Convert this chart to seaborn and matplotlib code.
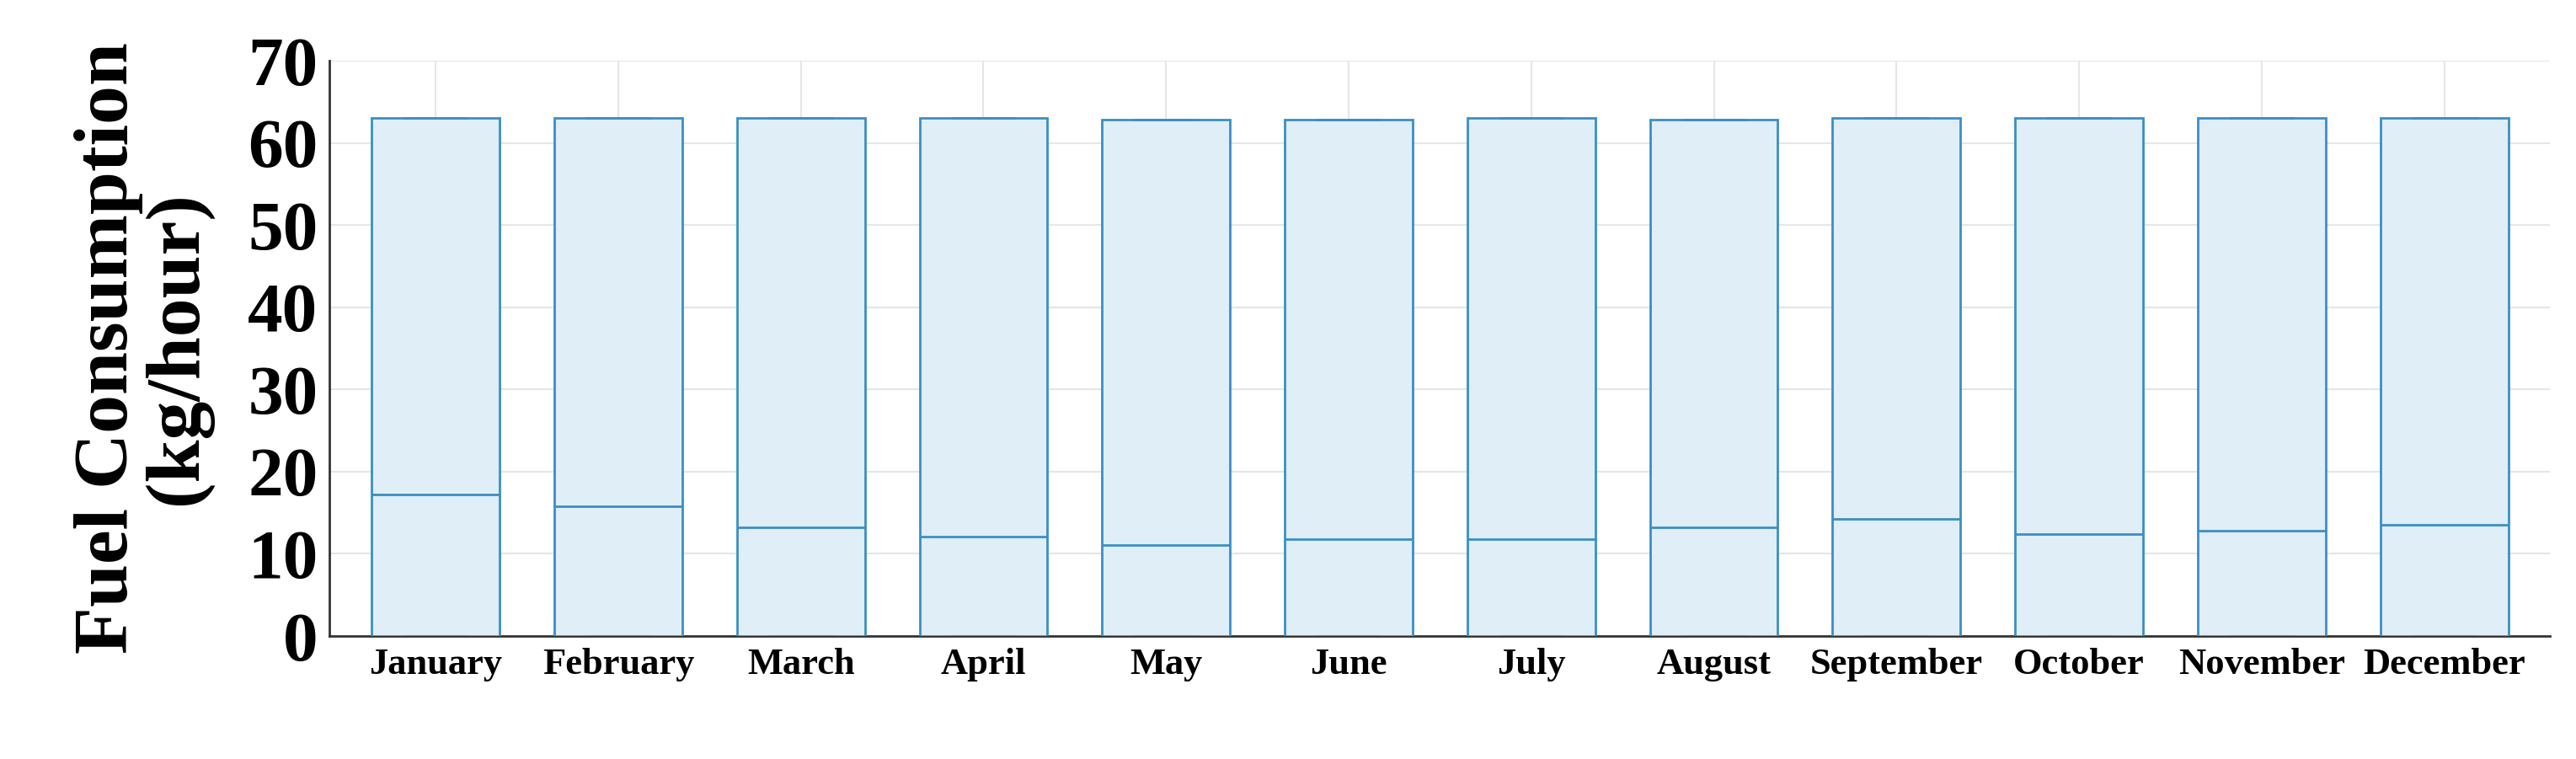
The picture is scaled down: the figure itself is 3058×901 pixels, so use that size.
import pandas as pd
import seaborn as sns
import matplotlib.pyplot as plt

months = ["January", "February", "March", "April", "May", "June", "July",
          "August", "September", "October", "November", "December"]
box_low = [0] * 12
box_high = [63.0, 63.0, 63.0, 63.0, 62.8, 62.8, 63.0, 62.8, 63.0, 63.0, 63.0, 63.0]
medians = [17.2, 15.8, 13.2, 12.1, 11.1, 11.8, 11.8, 13.2, 14.2, 12.4, 12.8, 13.5]

rows = []
for m, lo, hi, med in zip(months, box_low, box_high, medians):
    for v in [lo, lo, med, hi, hi]:
        rows.append({"month": m, "fuel": v})
df = pd.DataFrame(rows)

sns.set_style("white")
plt.rcParams['font.family'] = ['Liberation Serif', 'DejaVu Serif']
plt.rcParams['font.weight'] = 'bold'
plt.rcParams['text.color'] = 'black'
plt.rcParams['xtick.color'] = 'black'
plt.rcParams['ytick.color'] = 'black'
plt.rcParams['axes.labelcolor'] = 'black'

fig = plt.figure(figsize=(30.58, 9.01), dpi=100)
ax = fig.add_axes([0.128, 0.162, 0.862, 0.758])

edge = "#3a8fc4"
sns.boxplot(data=df, x="month", y="fuel", order=months, width=0.7, whis=10,
            color="#dfeef7", linecolor=edge, linewidth=2, fliersize=0,
            ax=ax, zorder=3)
for p in ax.patches:
    p.set_facecolor("#dfeef7")
    p.set_edgecolor(edge)

ax.set_ylim(0, 70)
ax.set_yticks(range(0, 71, 10))
ax.set_xlim(-0.58, 11.58)
ax.grid(True, color="#e6e6e6", linewidth=1.5, zorder=0)
ax.set_axisbelow(True)
for s in ["top", "right"]:
    ax.spines[s].set_visible(False)
for s in ["left", "bottom"]:
    ax.spines[s].set_color("#333333")
    ax.spines[s].set_linewidth(2)
ax.tick_params(axis="y", labelsize=60, length=8, width=2, pad=2)
ax.tick_params(axis="x", labelsize=32, length=0, pad=10)
for t in ax.get_yticklabels() + ax.get_xticklabels():
    t.set_fontweight("bold")
ax.set_xlabel("")
ax.set_ylabel("Fuel Consumption\n(kg/hour)", fontsize=66, fontweight="bold",
              linespacing=1.0, labelpad=30)

fig.savefig("out.png", dpi=100)
